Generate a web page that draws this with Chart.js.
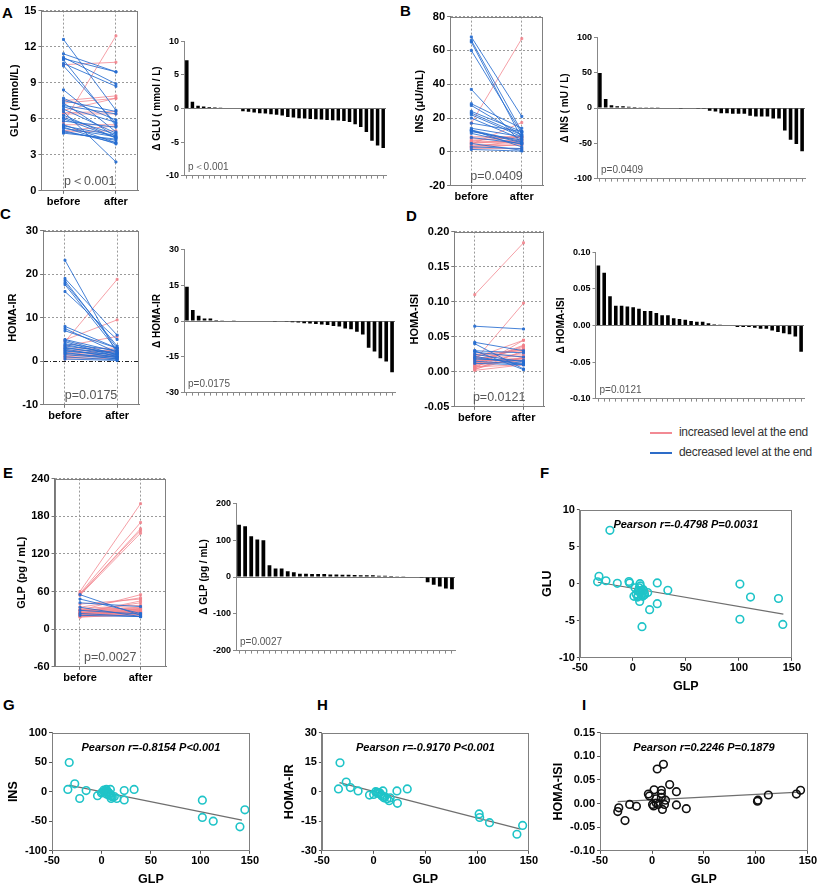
<!DOCTYPE html>
<html>
<head>
<meta charset="utf-8">
<script src="https://cdn.jsdelivr.net/npm/chart.js@4.4.0/dist/chart.umd.min.js"></script>
<style>
html, body { margin: 0; padding: 0; background: #fff; }
body { position: relative; width: 817px; height: 884px; overflow: hidden; font-family: 'Liberation Sans', Arial, sans-serif; }
canvas { position: absolute; }
.lt { position: absolute; font-weight: bold; font-size: 15px; line-height: 15px; color: #000; }
.lg { position: absolute; font-size: 12px; letter-spacing: -0.3px; line-height: 14px; color: #333; white-space: nowrap; }
.lg i { display: inline-block; width: 22px; height: 2px; vertical-align: middle; margin-right: 7px; }
</style>
</head>
<body>
<div class="lt" style="left:2px;top:5px">A</div>
<div class="lt" style="left:400px;top:3px">B</div>
<div class="lt" style="left:0px;top:206px">C</div>
<div class="lt" style="left:406px;top:208px">D</div>
<div class="lt" style="left:3px;top:465px">E</div>
<div class="lt" style="left:540px;top:465px">F</div>
<div class="lt" style="left:3px;top:697px">G</div>
<div class="lt" style="left:317px;top:697px">H</div>
<div class="lt" style="left:582px;top:697px">I</div>

<div class="lg" style="left:650px;top:425px"><i style="background:#f28a94"></i>increased level at the end</div>
<div class="lg" style="left:650px;top:445px"><i style="background:#2d6cc8"></i>decreased level at the end</div>

<script>
// ---- paired values (before / after) ----
var gluBefore = [5.7, 6.7, 7.5, 7.3, 10.5, 6.5, 5.0, 4.9, 5.5, 6.4, 12.6, 11.4, 11.1, 11.0, 10.9, 10.6, 10.4, 8.4, 7.7, 7.5, 7.3, 7.1, 7.0, 6.8, 6.6, 6.3, 6.1, 6.0, 5.8, 5.5, 5.4, 5.3, 5.2, 5.0, 4.9, 4.8];
var gluAfter  = [12.9, 7.7, 7.9, 7.7, 10.7, 6.6, 5.4, 5.0, 5.5, 6.4, 6.7, 9.9, 8.9, 9.9, 5.4, 8.7, 5.6, 4.9, 5.9, 6.6, 4.5, 6.4, 5.7, 4.8, 2.4, 4.4, 4.7, 4.4, 5.3, 4.0, 4.6, 3.9, 4.5, 4.0, 4.2, 4.3];

var insBefore = [17, 4.5, 3.0, 5.0, 6.5, 2.5, 7.0, 8.0, 4.0, 3.5, 6.0, 5.5, 2.0, 9.0, 68, 66, 65, 60, 37, 28.5, 27.5, 24, 23, 22, 20, 17, 14, 13, 13, 12.5, 12, 11, 8.5, 5, 3, 1.5];
var insAfter  = [67, 17.4, 6.8, 7.4, 8.9, 4.4, 8.4, 9.0, 5.0, 4.0, 6.5, 5.5, 2.0, 9.0, 21, 12, 8, 11, 5, 14, 10, 12, 10, 9, 7.5, 12, 9, 6, 3, 5.5, 7, 4.5, 5, 1, 2, 0.5];

var irBefore = [4.5, 4.9, 3.5, 1.5, 1.0, 0.8, 2.0, 1.2, 0.5, 2.5, 3.0, 23.2, 19.0, 18.5, 18.0, 17.6, 16.0, 8.0, 7.5, 7.0, 5.0, 4.8, 4.5, 4.0, 3.8, 3.5, 3.2, 3.0, 2.8, 2.5, 2.3, 2.0, 1.8, 1.5, 1.0, 0.5];
var irAfter  = [18.8, 9.5, 5.7, 2.5, 2.0, 1.2, 2.3, 1.4, 0.7, 2.5, 3.0, 1.8, 6.0, 3.0, 3.5, 2.5, 5.0, 3.0, 2.0, 3.0, 2.2, 1.5, 1.0, 2.5, 1.6, 2.0, 1.2, 1.8, 0.8, 1.0, 1.5, 0.5, 0.9, 0.6, 0.3, 0.2];

var isiBefore = [0.110, 0.016, 0.005, 0.010, 0.003, 0.012, 0.020, 0.008, 0.015, 0.004, 0.018, 0.006, 0.022, 0.009, 0.002, 0.014, 0.025, 0.011, 0.007, 0.020, 0.013, 0.017, 0.016, 0.024, 0.065, 0.042, 0.040, 0.030, 0.030, 0.028, 0.025, 0.022, 0.020, 0.018, 0.015, 0.012];
var isiAfter  = [0.184, 0.098, 0.045, 0.037, 0.030, 0.038, 0.045, 0.028, 0.035, 0.021, 0.032, 0.020, 0.032, 0.019, 0.010, 0.020, 0.030, 0.016, 0.010, 0.022, 0.014, 0.018, 0.016, 0.024, 0.061, 0.030, 0.004, 0.003, 0.027, 0.021, 0.014, 0.010, 0.012, 0.016, 0.011, 0.010];

var glpBefore = [60, 57, 55, 56, 54, 30, 35, 25, 28, 40, 22, 20, 24, 30, 27, 21, 33, 26, 19, 23, 29, 31, 25, 20, 22, 27, 24, 30, 26, 55, 48, 42, 35, 30, 25, 22];
var glpAfter  = [200, 170, 160, 157, 153, 55, 50, 45, 42, 48, 30, 28, 32, 35, 32, 26, 38, 30, 24, 27, 33, 34, 28, 22, 24, 28, 26, 31, 27, 22, 25, 36, 20, 24, 20, 20];

// ---- sorted changes (waterfalls) ----
var dGlu = [7.2, 1.0, 0.4, 0.3, 0.2, 0.15, 0.1, 0, 0, 0, -0.4, -0.5, -0.6, -0.7, -0.75, -0.85, -0.95, -1.05, -1.25, -1.35, -1.45, -1.5, -1.55, -1.6, -1.65, -1.7, -1.75, -1.8, -1.85, -2.0, -2.35, -2.75, -3.5, -4.8, -5.5, -5.9];
var dIns = [49.5, 12.9, 3.8, 2.4, 2.4, 1.9, 1.4, 1.0, 1.0, 0.5, 0.5, 0, 0, 0, -0.5, 0, 0, -0.5, -1, -3.8, -4.8, -7.6, -7.6, -8.1, -8.1, -8.1, -11, -11.9, -11.9, -11.9, -14.8, -14.8, -31.9, -44.8, -51, -61.4];
var dIr  = [14.4, 4.6, 2.2, 1.0, 1.0, 0.4, 0.3, 0.2, 0.15, 0, 0, 0, 0, 0, 0, -0.1, -0.2, -0.3, -0.5, -0.6, -0.9, -1.0, -1.3, -1.5, -1.7, -2.1, -2.3, -3.1, -3.5, -4.5, -5.7, -11.2, -12.8, -15.6, -17, -21.5];
var dIsi = [0.082, 0.072, 0.040, 0.027, 0.027, 0.026, 0.025, 0.023, 0.020, 0.020, 0.017, 0.014, 0.014, 0.010, 0.009, 0.008, 0.006, 0.005, 0.005, 0.003, 0.0015, 0.001, 0, 0, -0.002, -0.002, -0.002, -0.003, -0.0045, -0.0045, -0.007, -0.009, -0.0105, -0.012, -0.015, -0.036];
var dGlp = [142, 138, 111, 102, 100, 32, 23, 23, 15.5, 12.7, 9, 9, 8, 8, 8, 7, 7, 6, 6, 5.5, 4.5, 4.5, 4.5, 3.6, 3.6, 2.7, 1.8, 1, 0, -1.5, -2, -14.5, -21, -25.5, -31, -33];

// ---- correlations: change in GLP vs change in each marker ----
var fGlp = [-21.7, -32, -33.3, -25.4, -14.7, -3.7, -3.1, 2, 1, 6.7, 6, 7, 8, 6.4, 9.8, 10.8, 9.2, 4.5, 14, 23, 23, 15.8, 33, 8.6, 101, 101, 111, 137.4, 141.5, 5, 8, 3, 10, 7, 5, 11];
var fGlu = [7.2, 1.0, 0.25, 0.4, 0.05, 0.3, 0.1, -0.55, -1.7, 0, -0.55, -1.2, -1.5, -2.4, -0.8, -1.3, -1.7, -1.8, -1.2, 0.1, -2.7, -3.5, -0.9, -5.8, -0.05, -4.8, -1.8, -2.0, -5.5, -1.0, -0.9, -1.4, -1.0, -0.3, -1.6, -1.5];
var gGlp = [-32.6, -34, -27, -22, -15.5, -4, 0, 2.5, 5, 6, 9, 7.5, 9.8, 13, 15.5, 23, 23, 33, 102, 102, 113, 140, 145, 4, 7, 3, 8, 10, 5, 11, 1];
var gIns = [49.4, 3.8, 13.4, -11.5, 1.9, -6.7, -2, 2.9, 3.8, 0.5, 3.8, -5.8, -11.5, -8.2, -11.5, 1.9, -13.9, 3.8, -14.4, -43.6, -49.9, -59.5, -30.7, 1, -1, 0, -3, -7, -4, -9, -1];
var hGlp = [-32.5, -34, -26.5, -22.5, -15, -4, 0, 2, 4, 6, 7, 9, 10, 13, 15, 16, 22.5, 23, 32.5, 102, 102.5, 112, 138.5, 144, 5, 8, 3, 11];
var hIr  = [14.7, 1.4, 4.9, 2.1, 0.4, -1.7, -1.4, 0, -0.3, -0.6, -1.4, 0.4, -3.1, -3.6, -4.6, -3.1, 0.4, -5.9, 1.4, -11.3, -13.1, -15.7, -21.6, -17.1, -0.9, -2.2, -0.5, -2.6];
var iGlp = [-33, -32, -26, -21.5, -15, -2.5, -3.5, 2, 5, 11, 4, 6, 4, 9, 9, 9, 10, 12, 13, 17, 23.5, 23.5, 33, 0.5, 1.5, 101.5, 102, 112, 139, 143];
var iIsi = [-0.017, -0.009, -0.036, -0.002, -0.006, 0.016, 0.020, 0.029, 0.073, 0.083, 0.001, -0.002, 0.010, 0.028, 0.021, 0.013, -0.0125, -0.002, 0.007, 0.040, 0.025, -0.003, -0.011, -0.002, -0.005, 0.005, 0.007, 0.018, 0.020, 0.028];

// fitted lines, ends
var fitX = [-33, 142];
var fitGlu = [0.2, -4.1];
var fitIns = [11, -48];
var fitIr  = [4.6, -19];
var fitIsi = [0.004, 0.024];

var subjects = [];
for (var k = 1; k <= dGlu.length; k++) subjects.push(String(k));

var RED = 'rgba(242,128,138,0.75)';
var BLUE = 'rgba(38,108,208,0.85)';
var CYAN = '#1fc4c8';

Chart.defaults.font.family = "'Liberation Sans', Arial, sans-serif";
Chart.defaults.color = '#000';
Chart.defaults.responsive = false;
Chart.defaults.maintainAspectRatio = false;
Chart.defaults.animation = false;
Chart.defaults.plugins.legend.display = false;
Chart.defaults.plugins.tooltip.enabled = false;

var frame = {
  id: 'frame',
  afterDraw: function (ch) {
    var a = ch.chartArea, c = ch.ctx;
    c.save();
    c.strokeStyle = '#808080';
    c.lineWidth = 1;
    c.strokeRect(Math.round(a.left) + 0.5, Math.round(a.top) + 0.5, Math.round(a.right - a.left) - 1, Math.round(a.bottom - a.top) - 1);
    c.restore();
  }
};

function note(text, where, size) {
  return {
    id: 'note',
    afterDraw: function (ch) {
      var a = ch.chartArea, c = ch.ctx;
      c.save();
      c.fillStyle = '#555';
      c.font = size + "px 'Liberation Sans', Arial, sans-serif";
      c.textBaseline = 'alphabetic';
      if (where === 'center') {
        c.textAlign = 'center';
        c.fillText(text, (a.left + a.right) / 2, a.bottom - 6);
      } else {
        c.textAlign = 'left';
        c.fillText(text, a.left + 4, a.bottom - 6);
      }
      c.restore();
    }
  };
}

function pearson(text) {
  return {
    id: 'pearson',
    afterDraw: function (ch) {
      var a = ch.chartArea, c = ch.ctx;
      c.save();
      c.fillStyle = '#000';
      c.font = "italic bold 11px 'Liberation Sans', Arial, sans-serif";
      c.textAlign = 'center';
      c.fillText(text, (a.left + a.right) / 2, a.top + 18);
      c.restore();
    }
  };
}

function setSize(cv, w, h) {
  cv.width = w; cv.height = h;
  cv.style.width = w + 'px'; cv.style.height = h + 'px';
}

// draw once, measure the margins round the plot area, then redraw so the plot area sits on box
function place(box, build) {
  var cv = document.createElement('canvas');
  document.body.appendChild(cv);
  var w0 = box.w + 120, h0 = box.h + 90;
  setSize(cv, w0, h0);
  var probe = new Chart(cv, build());
  var a = probe.chartArea;
  var ml = a.left, mt = a.top, mr = w0 - a.right, mb = h0 - a.bottom;
  probe.destroy();
  setSize(cv, Math.round(box.w + ml + mr), Math.round(box.h + mt + mb));
  cv.style.left = Math.round(box.x - ml) + 'px';
  cv.style.top = Math.round(box.y - mt) + 'px';
  return new Chart(cv, build());
}

function fmt(dec) {
  return function (v) { return dec ? Number(v).toFixed(dec) : Math.round(v); };
}

function paired(box, yTitle, before, after, yMin, yMax, yStep, pText, dec, zeroDash) {
  place(box, function () {
    var sets = [];
    for (var i = 0; i < before.length; i++) {
      var up = after[i] >= before[i];
      var col = up ? RED : BLUE;
      sets.push({
        data: [{ x: 0, y: before[i] }, { x: 1, y: after[i] }],
        borderColor: col, backgroundColor: col, borderWidth: 1,
        pointStyle: 'rect', pointRadius: 1.4, order: up ? 1 : 0
      });
    }
    return {
      type: 'line',
      data: { datasets: sets },
      options: {
        layout: { padding: { top: 4, right: 2 } },
        scales: {
          x: {
            type: 'linear', min: -0.42, max: 1.42,
            afterBuildTicks: function (s) { s.ticks = [{ value: 0 }, { value: 1 }]; },
            ticks: { callback: function (v) { return v === 0 ? 'before' : 'after'; }, font: { size: 11, weight: 'bold' }, padding: 2 },
            grid: { color: '#9a9a9a', tickColor: '#777', tickLength: 3 },
            border: { color: '#777', dash: [2, 2] }
          },
          y: {
            min: yMin, max: yMax,
            ticks: { stepSize: yStep, font: { size: 11, weight: 'bold' }, padding: 2, callback: fmt(dec) },
            grid: {
              color: function (c) { return zeroDash && c.tick && c.tick.value === 0 ? '#222' : '#9a9a9a'; },
              tickColor: '#777', tickLength: 3
            },
            border: {
              color: '#777',
              dash: function (c) { return zeroDash && c.tick && c.tick.value === 0 ? [4, 2, 1, 2] : [2, 2]; }
            },
            title: { display: true, text: yTitle, font: { size: 11, weight: 'bold' }, padding: { top: 0, bottom: 1 } }
          }
        }
      },
      plugins: [frame, note(pText, 'center', 12.5)]
    };
  });
}

function waterfall(box, yTitle, values, yMin, yMax, yStep, pText, dec) {
  place(box, function () {
    return {
      type: 'bar',
      data: { labels: subjects, datasets: [{ data: values, backgroundColor: '#000', barPercentage: 0.62, categoryPercentage: 1 }] },
      options: {
        layout: { padding: { top: 4, right: 4 } },
        scales: {
          x: {
            ticks: { display: false },
            grid: { display: true, drawOnChartArea: false, tickLength: 3, tickColor: '#888', offset: false },
            border: { color: '#888' }
          },
          y: {
            min: yMin, max: yMax,
            ticks: { stepSize: yStep, font: { size: 9, weight: 'bold' }, padding: 2, callback: fmt(dec) },
            grid: {
              color: function (c) { return c.tick && c.tick.value === 0 ? '#777' : 'rgba(0,0,0,0)'; },
              tickColor: '#888', tickLength: 3
            },
            border: { color: '#888' },
            title: { display: true, text: yTitle, font: { size: 10, weight: 'bold' }, padding: { top: 0, bottom: 1 } }
          }
        }
      },
      plugins: [note(pText, 'left', 10)]
    };
  });
}

function scatter(box, yTitle, xs, ys, fitY, yMin, yMax, yStep, color, label, dec) {
  place(box, function () {
    var pts = [];
    for (var i = 0; i < xs.length; i++) pts.push({ x: xs[i], y: ys[i] });
    var fit = [{ x: fitX[0], y: fitY[0] }, { x: fitX[1], y: fitY[1] }];
    return {
      type: 'scatter',
      data: {
        datasets: [
          { data: pts, borderColor: color, backgroundColor: 'rgba(0,0,0,0)', borderWidth: 1.6, pointRadius: 3.8, order: 0 },
          { type: 'line', data: fit, borderColor: '#6f6f6f', borderWidth: 1.2, pointRadius: 0, order: 1 }
        ]
      },
      options: {
        layout: { padding: { top: 4, right: 6 } },
        scales: {
          x: {
            type: 'linear', min: -50, max: 150,
            ticks: { stepSize: 50, font: { size: 11, weight: 'bold' }, padding: 1 },
            grid: { drawOnChartArea: false, tickLength: 3, tickColor: '#555' },
            border: { color: '#808080' },
            title: { display: true, text: 'GLP', font: { size: 12.5, weight: 'bold' }, padding: { top: 3, bottom: 0 } }
          },
          y: {
            min: yMin, max: yMax,
            ticks: { stepSize: yStep, font: { size: 11, weight: 'bold' }, padding: 2, callback: fmt(dec) },
            grid: { drawOnChartArea: false, tickLength: 3, tickColor: '#555' },
            border: { color: '#808080' },
            title: { display: true, text: yTitle, font: { size: 12.5, weight: 'bold' }, padding: { top: 0, bottom: 2 } }
          }
        }
      },
      plugins: [frame, pearson(label)]
    };
  });
}

paired({ x: 41, y: 11, w: 97, h: 180 }, 'GLU (mmol/L)', gluBefore, gluAfter, 0, 15, 3, 'p＜0.001', 0, false);
waterfall({ x: 184, y: 41, w: 202, h: 134 }, 'Δ GLU ( mmol / L)', dGlu, -10, 10, 5, 'p＜0.001', 0);

paired({ x: 450, y: 17, w: 93, h: 169 }, 'INS (μU/mL)', insBefore, insAfter, -20, 80, 20, 'p=0.0409', 0, false);
waterfall({ x: 597, y: 37, w: 208, h: 141 }, 'Δ INS ( mU / L)', dIns, -100, 100, 50, 'p=0.0409', 0);

paired({ x: 43, y: 231, w: 96, h: 174 }, 'HOMA-IR', irBefore, irAfter, -10, 30, 10, 'p=0.0175', 0, true);
waterfall({ x: 184, y: 249, w: 211, h: 143 }, 'Δ HOMA-IR', dIr, -30, 30, 15, 'p=0.0175', 0);

paired({ x: 454, y: 232, w: 90, h: 175 }, 'HOMA-ISI', isiBefore, isiAfter, -0.05, 0.20, 0.05, 'p=0.0121', 2, false);
waterfall({ x: 596, y: 252, w: 208, h: 146 }, 'Δ HOMA-ISI', dIsi, -0.10, 0.10, 0.05, 'p=0.0121', 2);

paired({ x: 55, y: 479, w: 111, h: 188 }, 'GLP (pg / mL)', glpBefore, glpAfter, -60, 240, 60, 'p=0.0027', 0, false);
waterfall({ x: 236, y: 503, w: 219, h: 147 }, 'Δ GLP (pg / mL)', dGlp, -200, 200, 100, 'p=0.0027', 0);

scatter({ x: 580, y: 510, w: 212, h: 148 }, 'GLU', fGlp, fGlu, fitGlu, -10, 10, 5, CYAN, 'Pearson r=-0.4798 P=0.0031', 0);
scatter({ x: 52, y: 733, w: 198, h: 118 }, 'INS', gGlp, gIns, fitIns, -100, 100, 50, CYAN, 'Pearson r=-0.8154 P<0.001', 0);
scatter({ x: 322, y: 733, w: 207, h: 118 }, 'HOMA-IR', hGlp, hIr, fitIr, -30, 30, 15, CYAN, 'Pearson r=-0.9170 P<0.001', 0);
scatter({ x: 600, y: 733, w: 208, h: 118 }, 'HOMA-ISI', iGlp, iIsi, fitIsi, -0.10, 0.15, 0.05, '#111', 'Pearson r=0.2246 P=0.1879', 2);
</script>
</body>
</html>
